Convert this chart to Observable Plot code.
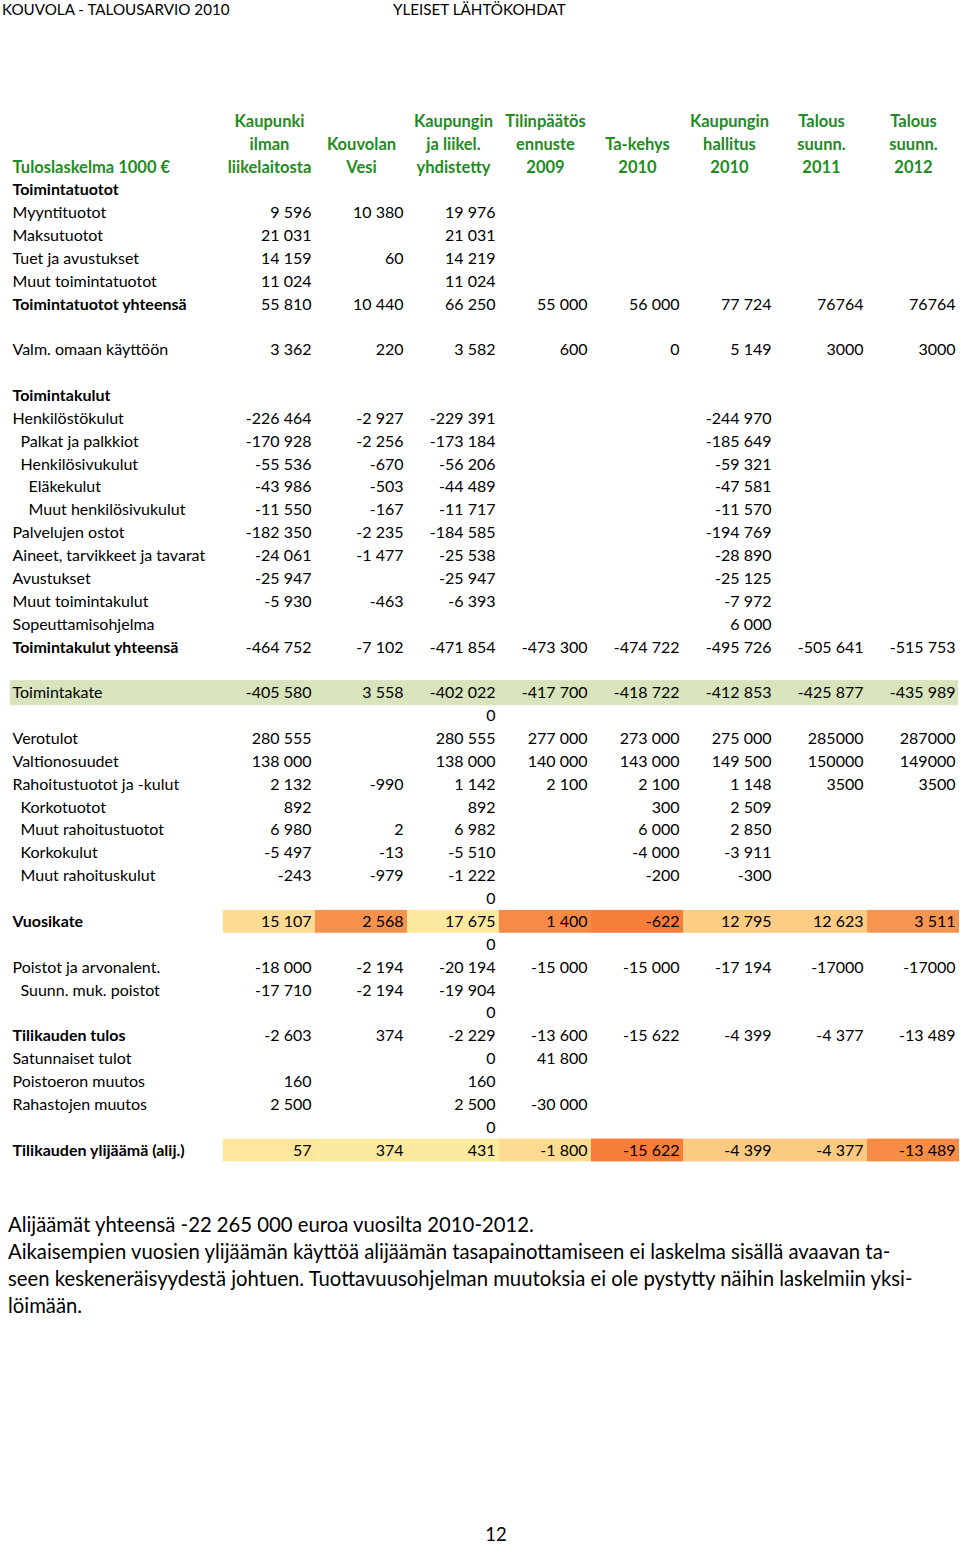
<!DOCTYPE html>
<html>
<head>
<meta charset="utf-8">
<script src="https://cdn.jsdelivr.net/npm/d3@7"></script>
<script src="https://cdn.jsdelivr.net/npm/@observablehq/plot@0.6"></script>
<style>
  html, body { margin: 0; padding: 0; background: #fff; }
  #page { position: relative; width: 960px; height: 1544px; overflow: hidden; font-family: Lato, "Open Sans", sans-serif; color: #000; }
  .hdr { position: absolute; top: 1px; font-size: 15.2px; line-height: 17px; white-space: nowrap; z-index: 2; }
  #chart { position: absolute; left: 0; top: 0; z-index: 1; }
  #notes { position: absolute; left: 8px; top: 1211px; font-size: 20.3px; line-height: 27px; white-space: nowrap; z-index: 2; }
  #pageno { position: absolute; left: 0; width: 992px; top: 1526px; height: 17px; line-height: 17px; text-align: center; font-size: 18.5px; z-index: 2; }
</style>
</head>
<body>
<div id="page">
  <div id="chart"></div>
  <div class="hdr" style="left:2px">KOUVOLA - TALOUSARVIO 2010</div>
  <div class="hdr" style="left:393px">YLEISET LÄHTÖKOHDAT</div>
  <div id="notes">
    <div>Alijäämät yhteensä -22 265 000 euroa vuosilta 2010-2012.</div>
    <div>Aikaisempien vuosien ylijäämän käyttöä alijäämän tasapainottamiseen ei laskelma sisällä avaavan ta-</div>
    <div>seen keskeneräisyydestä johtuen. Tuottavuusohjelman muutoksia ei ole pystytty näihin laskelmiin yksi-</div>
    <div>löimään.</div>
  </div>
  <div id="pageno">12</div>
</div>
<script>
// ---- data ----
const columns = ["kaupunki", "vesi", "yhdistetty", "tp2009", "takehys2010", "kh2010", "ts2011", "ts2012"];
const columnHeaders = [
  ["Kaupunki", "ilman", "liikelaitosta"],
  ["Kouvolan", "Vesi"],
  ["Kaupungin", "ja liikel.", "yhdistetty"],
  ["Tilinpäätös", "ennuste", "2009"],
  ["Ta-kehys", "2010"],
  ["Kaupungin", "hallitus", "2010"],
  ["Talous", "suunn.", "2011"],
  ["Talous", "suunn.", "2012"]
];
const stubHeader = "Tuloslaskelma 1000 €";

const rowLabels = [
  "Toimintatuotot", "Myyntituotot", "Maksutuotot", "Tuet ja avustukset", "Muut toimintatuotot",
  "Toimintatuotot yhteensä", "", "Valm. omaan käyttöön", "", "Toimintakulut",
  "Henkilöstökulut", "Palkat ja palkkiot", "Henkilösivukulut", "Eläkekulut", "Muut henkilösivukulut",
  "Palvelujen ostot", "Aineet, tarvikkeet ja tavarat", "Avustukset", "Muut toimintakulut", "Sopeuttamisohjelma",
  "Toimintakulut yhteensä", "", "Toimintakate", "", "Verotulot",
  "Valtionosuudet", "Rahoitustuotot ja -kulut", "Korkotuotot", "Muut rahoitustuotot", "Korkokulut",
  "Muut rahoituskulut", "", "Vuosikate", "", "Poistot ja arvonalent.",
  "Suunn. muk. poistot", "", "Tilikauden tulos", "Satunnaiset tulot", "Poistoeron muutos",
  "Rahastojen muutos", "", "Tilikauden ylijäämä (alij.)"
];
const indentLevels = {
  "Palkat ja palkkiot": 1, "Henkilösivukulut": 1, "Eläkekulut": 2, "Muut henkilösivukulut": 2,
  "Korkotuotot": 1, "Muut rahoitustuotot": 1, "Korkokulut": 1, "Muut rahoituskulut": 1,
  "Suunn. muk. poistot": 1
};
const boldRows = ["Toimintatuotot", "Toimintatuotot yhteensä", "Toimintakulut", "Toimintakulut yhteensä",
  "Vuosikate", "Tilikauden tulos", "Tilikauden ylijäämä (alij.)"];
const bandRows = ["Toimintakate"];
const heatRows = ["Vuosikate", "Tilikauden ylijäämä (alij.)"];

const figures = [
  [],
  ["9 596", "10 380", "19 976"],
  ["21 031", "", "21 031"],
  ["14 159", "60", "14 219"],
  ["11 024", "", "11 024"],
  ["55 810", "10 440", "66 250", "55 000", "56 000", "77 724", "76764", "76764"],
  [],
  ["3 362", "220", "3 582", "600", "0", "5 149", "3000", "3000"],
  [],
  [],
  ["-226 464", "-2 927", "-229 391", "", "", "-244 970"],
  ["-170 928", "-2 256", "-173 184", "", "", "-185 649"],
  ["-55 536", "-670", "-56 206", "", "", "-59 321"],
  ["-43 986", "-503", "-44 489", "", "", "-47 581"],
  ["-11 550", "-167", "-11 717", "", "", "-11 570"],
  ["-182 350", "-2 235", "-184 585", "", "", "-194 769"],
  ["-24 061", "-1 477", "-25 538", "", "", "-28 890"],
  ["-25 947", "", "-25 947", "", "", "-25 125"],
  ["-5 930", "-463", "-6 393", "", "", "-7 972"],
  ["", "", "", "", "", "6 000"],
  ["-464 752", "-7 102", "-471 854", "-473 300", "-474 722", "-495 726", "-505 641", "-515 753"],
  [],
  ["-405 580", "3 558", "-402 022", "-417 700", "-418 722", "-412 853", "-425 877", "-435 989"],
  ["", "", "0"],
  ["280 555", "", "280 555", "277 000", "273 000", "275 000", "285000", "287000"],
  ["138 000", "", "138 000", "140 000", "143 000", "149 500", "150000", "149000"],
  ["2 132", "-990", "1 142", "2 100", "2 100", "1 148", "3500", "3500"],
  ["892", "", "892", "", "300", "2 509"],
  ["6 980", "2", "6 982", "", "6 000", "2 850"],
  ["-5 497", "-13", "-5 510", "", "-4 000", "-3 911"],
  ["-243", "-979", "-1 222", "", "-200", "-300"],
  ["", "", "0"],
  ["15 107", "2 568", "17 675", "1 400", "-622", "12 795", "12 623", "3 511"],
  ["", "", "0"],
  ["-18 000", "-2 194", "-20 194", "-15 000", "-15 000", "-17 194", "-17000", "-17000"],
  ["-17 710", "-2 194", "-19 904"],
  ["", "", "0"],
  ["-2 603", "374", "-2 229", "-13 600", "-15 622", "-4 399", "-4 377", "-13 489"],
  ["", "", "0", "41 800"],
  ["160", "", "160"],
  ["2 500", "", "2 500", "-30 000"],
  ["", "", "0"],
  ["57", "374", "431", "-1 800", "-15 622", "-4 399", "-4 377", "-13 489"]
];

// ---- derived tables ----
const parseNum = s => +s.replace(/\s/g, "");
const cells = [];
figures.forEach((row, i) => row.forEach((t, j) => {
  if (t !== "") cells.push({row: i, col: columns[j], text: t, value: parseNum(t)});
}));
const heatCells = [];
heatRows.forEach(label => {
  const i = rowLabels.indexOf(label);
  const rc = cells.filter(c => c.row === i);
  const [lo, hi] = d3.extent(rc, c => c.value);
  rc.forEach(c => heatCells.push({...c, t: (c.value - lo) / (hi - lo)}));
});
const headerLines = [];
columnHeaders.forEach((lines, j) => lines.forEach((l, k) => {
  headerLines.push({col: columns[j], row: k - lines.length, line: l});
}));
const labelRows = rowLabels.map((label, i) => ({
  row: i, label, level: indentLevels[label] || 0, bold: boldRows.includes(label)
})).filter(d => d.label !== "");
const bands = bandRows.map(l => ({row: rowLabels.indexOf(l)}));

const green = "#228b22";
const labelMarks = [];
for (const level of [0, 1, 2]) for (const bold of [false, true]) {
  labelMarks.push(Plot.text(labelRows.filter(d => d.level === level && d.bold === bold), {
    y: "row", text: "label", frameAnchor: "left", textAnchor: "start",
    dx: 2 + 8 * level, fontWeight: bold ? "bold" : "normal", fill: "#000"
  }));
}

const chart = Plot.plot({
  width: 960,
  height: 1180,
  marginLeft: 10,
  marginRight: 2,
  marginTop: 0,
  marginBottom: 0,
  x: {type: "band", domain: columns, range: [222, 960], padding: 0, axis: null},
  y: {type: "linear", domain: [-3, 42], range: [121, 1150], axis: null},
  color: {type: "linear", domain: [0, 1], range: ["#f67e3a", "#feea9e"], interpolate: "rgb"},
  style: {fontFamily: "Lato, 'Open Sans', sans-serif", fontSize: "16px", background: "transparent", overflow: "visible"},
  marks: [
    Plot.rect(bands, {y1: d => d.row - 0.55, y2: d => d.row + 0.55, fill: "#d8e4bc"}),
    Plot.barY(heatCells, {x: "col", y1: d => d.row - 0.5, y2: d => d.row + 0.5, fill: "t", inset: 0}),
    Plot.text(headerLines, {x: "col", y: "row", text: "line", fill: green, fontWeight: "bold", fontSize: 16.5}),
    Plot.text([{row: -1, label: stubHeader}], {y: "row", text: "label", frameAnchor: "left", textAnchor: "start", dx: 2, fill: green, fontWeight: "bold", fontSize: 16.5}),
    ...labelMarks,
    Plot.text(cells, {x: "col", y: "row", text: "text", textAnchor: "end", dx: 42, fill: "#000"})
  ]
});
document.getElementById("chart").appendChild(chart);
</script>
</body>
</html>
